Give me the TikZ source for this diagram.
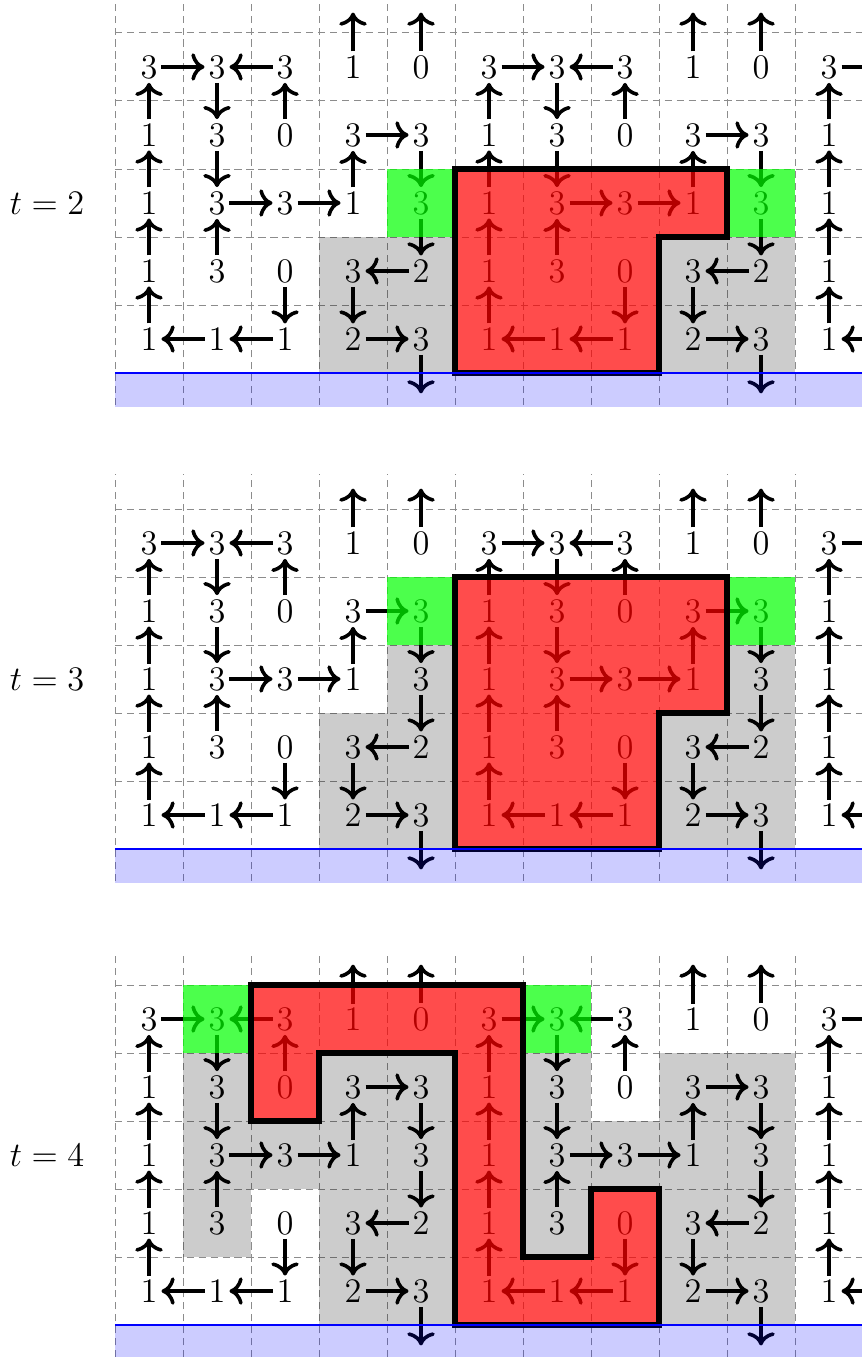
\documentclass[tikz,border=0pt]{standalone}
\usetikzlibrary{positioning,arrows.meta}

% cell data: column/row/value/dx/dy (pattern repeats every 5 columns)
\def\cells{0/5/3/1/0, 1/5/3/0/-1, 2/5/3/-1/0, 3/5/1/0/1, 4/5/0/0/1,
           0/4/1/0/1, 1/4/3/0/-1, 2/4/0/0/1, 3/4/3/1/0, 4/4/3/0/-1,
           0/3/1/0/1, 1/3/3/1/0, 2/3/3/1/0, 3/3/1/0/1, 4/3/3/0/-1,
           0/2/1/0/1, 1/2/3/0/1, 2/2/0/0/-1, 3/2/3/0/-1, 4/2/2/-1/0,
           0/1/1/0/1, 1/1/1/-1/0, 2/1/1/-1/0, 3/1/2/1/0, 4/1/3/0/-1}

\begin{document}
\begin{tikzpicture}[
    num/.style={font=\Large, inner sep=1.5pt},
    flowline/.style={-{To[length=5.5pt,width=11.5pt]}, line width=1.5pt},
    gridline/.style={gray!90, densely dashed},
    pile/.style={fill=black, fill opacity=0.2},
    source/.style={fill=green, fill opacity=0.7},
    avalanche/.style={fill=red, fill opacity=0.7, draw=black, line width=2.5pt},
    sink/.style={fill=blue, fill opacity=0.2},
    rim/.style={blue, line width=1.2pt}
]
\useasboundingbox (-1.691,-14.47) rectangle (10.971,5.485);

% Grids, numbers and arrows
\foreach \k/\t in {0/2,1/3,2/4} {
  \begin{scope}[shift={(0,-7*\k)}]
    \node[font=\Large] (time\k) at (-1,2.5) {$t=\t$};
    \clip (0,-0.5) rectangle (11,5.5);
    \draw[gridline] (0,-1) grid (12,6);
    \foreach \m in {0,5,10} {
      \foreach \c/\r/\v/\dx/\dy in \cells {
        \pgfmathtruncatemacro\x{\m+\c}
        \node[num] (n\k-\x-\r) at (\x+0.5,\r-0.5) {\v};
      }
      \foreach \c in {0,...,4} {
        \pgfmathtruncatemacro\x{\m+\c}
        \coordinate (n\k-\x-0) at (\x+0.5,-0.3);
        \coordinate (n\k-\x-6) at (\x+0.5,5.3);
      }
    }
    \foreach \m in {0,5,10} {
      \foreach \c/\r/\v/\dx/\dy in \cells {
        \pgfmathtruncatemacro\x{\m+\c}
        \pgfmathtruncatemacro\tx{\x+\dx}
        \pgfmathtruncatemacro\ty{\r+\dy}
        \draw[flowline] (n\k-\x-\r) -- (n\k-\tx-\ty);
      }
    }
  \end{scope}
}

% t = 2
\begin{scope}
  \foreach \x/\y in {3/0,3/1,4/0,4/1,8/0,8/1,9/0,9/1}
    \fill[pile] (\x,\y) rectangle ++(1,1);
  \foreach \x/\y in {4/2,9/2}
    \fill[source] (\x,\y) rectangle ++(1,1);
  \filldraw[avalanche] (5,3) -- (9,3) -- (9,2) -- (8,2) -- (8,0) -- (5,0) -- cycle;
\end{scope}

% t = 3
\begin{scope}[shift={(0,-7)}]
  \foreach \x/\y in {3/0,3/1,4/0,4/1,4/2,8/0,8/1,9/0,9/1,9/2}
    \fill[pile] (\x,\y) rectangle ++(1,1);
  \foreach \x/\y in {4/3,9/3}
    \fill[source] (\x,\y) rectangle ++(1,1);
  \filldraw[avalanche] (5,4) -- (9,4) -- (9,2) -- (8,2) -- (8,0) -- (5,0) -- cycle;
\end{scope}

% t = 4
\begin{scope}[shift={(0,-14)}]
  \foreach \x/\y in {1/1,1/2,1/3,2/2,3/0,3/1,3/2,3/3,4/0,4/1,4/2,4/3,
                     6/1,6/2,6/3,7/2,8/0,8/1,8/2,8/3,9/0,9/1,9/2,9/3}
    \fill[pile] (\x,\y) rectangle ++(1,1);
  \foreach \x/\y in {1/4,6/4}
    \fill[source] (\x,\y) rectangle ++(1,1);
  \filldraw[avalanche] (2,5) -- (6,5) -- (6,1) -- (7,1) -- (7,2) -- (8,2) -- (8,0)
    -- (5,0) -- (5,4) -- (3,4) -- (3,3) -- (2,3) -- cycle;
\end{scope}

% Sink rows
\foreach \k in {0,1,2} {
  \begin{scope}[shift={(0,-7*\k)}]
    \fill[sink] (0,-0.5) rectangle (11,0);
    \draw[rim] (0,0) -- (11,0);
  \end{scope}
}

\end{tikzpicture}
\end{document}
